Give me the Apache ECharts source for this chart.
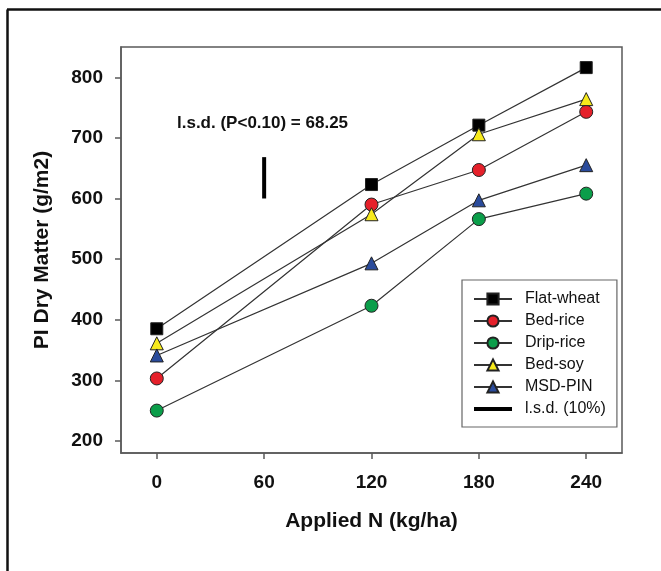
<!DOCTYPE html>
<html>
<head>
<meta charset="utf-8">
<script src="https://cdn.jsdelivr.net/npm/echarts@6/dist/echarts.min.js"></script>
<style>html,body{margin:0;padding:0;background:#fff}#main{width:661px;height:571px}</style>
</head>
<body>
<div id="main"></div>
<script>
// applied N rates (kg/ha) and PI dry matter (g/m2) per treatment
var nRates = [0, 120, 180, 240];
var flatWheat = [385, 623, 721, 816];
var bedRice = [303, 590, 647, 743];
var dripRice = [250, 423, 566, 608];
var bedSoy = [361, 574, 706, 764];
var msdPin = [341, 493, 597, 655];
// l.s.d. bar drawn at N = 60
var lsdX = [60, 60];
var lsdY = [600, 668.25];
var xTicks = [0, 60, 120, 180, 240];
var yTicks = [200, 300, 400, 500, 600, 700, 800];

var font = 'Liberation Sans, Arial, sans-serif';
var chart = echarts.init(document.getElementById('main'));

function pairs(xs, ys) {
    return xs.map(function (x, i) { return [x, ys[i]]; });
}

function treatment(name, ys, symbol, size, color) {
    return {
        name: name,
        type: 'line',
        data: pairs(nRates, ys),
        symbol: symbol,
        symbolSize: size,
        lineStyle: { color: '#333', width: 1.2 },
        itemStyle: { color: color, borderColor: '#222', borderWidth: 1 },
        z: 3
    };
}

var axisColor = '#5a5a5a';

var option = {
    animation: false,
    backgroundColor: '#fff',
    grid: {
        left: 121, top: 47, width: 501, height: 406,
        show: true, borderColor: axisColor, borderWidth: 1.5
    },
    xAxis: {
        type: 'value', min: -20, max: 260,
        name: 'Applied N (kg/ha)', nameLocation: 'middle', nameGap: 58,
        nameTextStyle: { fontFamily: font, fontWeight: 'bold', fontSize: 21, color: '#111' },
        axisLine: { show: true, onZero: false, lineStyle: { color: axisColor, width: 1.5 } },
        axisTick: { show: true, inside: false, length: 6, customValues: xTicks, lineStyle: { color: axisColor, width: 1.5 } },
        axisLabel: { customValues: xTicks, margin: 20, fontFamily: font, fontWeight: 'bold', fontSize: 19, color: '#111' },
        splitLine: { show: false }
    },
    yAxis: {
        type: 'value', min: 180, max: 850,
        name: 'PI Dry Matter (g/m2)', nameLocation: 'middle', nameGap: 68,
        nameTextStyle: { fontFamily: font, fontWeight: 'bold', fontSize: 21, color: '#111' },
        axisLine: { show: true, onZero: false, lineStyle: { color: axisColor, width: 1.5 } },
        axisTick: { show: true, inside: false, length: 6, customValues: yTicks, lineStyle: { color: axisColor, width: 1.5 } },
        axisLabel: { customValues: yTicks, margin: 18, fontFamily: font, fontWeight: 'bold', fontSize: 19, color: '#111' },
        splitLine: { show: false }
    },
    legend: {
        orient: 'vertical',
        left: 462, top: 280,
        itemWidth: 38, itemHeight: 14, itemGap: 6,
        padding: [11, 11, 10, 10],
        borderColor: '#666', borderWidth: 1.2,
        textStyle: { fontFamily: font, fontSize: 16, color: '#111', padding: [0, 0, 0, 8] },
        data: ['Flat-wheat', 'Bed-rice', 'Drip-rice', 'Bed-soy', 'MSD-PIN',
            {
                name: 'l.s.d. (10%)',
                lineStyle: { color: '#000', width: 4 },
                itemStyle: { color: 'rgba(0,0,0,0)', borderColor: 'rgba(0,0,0,0)' }
            }]
    },
    graphic: [
        { type: 'line', shape: { x1: 7, y1: 9.5, x2: 661, y2: 9.5 }, style: { stroke: '#111', lineWidth: 2.5 } },
        { type: 'line', shape: { x1: 7.5, y1: 9.5, x2: 7.5, y2: 571 }, style: { stroke: '#111', lineWidth: 2.5 } },
        { type: 'text', left: 177, top: 115, style: { text: 'l.s.d. (P<0.10) = 68.25', font: 'bold 17px ' + font, fill: '#111' } }
    ],
    series: [
        treatment('Flat-wheat', flatWheat, 'rect', 12, '#000'),
        treatment('Bed-rice', bedRice, 'circle', 13, '#e5202a'),
        treatment('Drip-rice', dripRice, 'circle', 13, '#0b9e4a'),
        treatment('Bed-soy', bedSoy, 'triangle', 13, '#f7ea1c'),
        treatment('MSD-PIN', msdPin, 'triangle', 13, '#2a4b9b'),
        {
            name: 'l.s.d. (10%)',
            type: 'line',
            data: pairs(lsdX, lsdY),
            symbol: 'none',
            lineStyle: { color: '#000', width: 4 },
            itemStyle: { color: '#000' }
        }
    ]
};
chart.setOption(option);
</script>
</body>
</html>
